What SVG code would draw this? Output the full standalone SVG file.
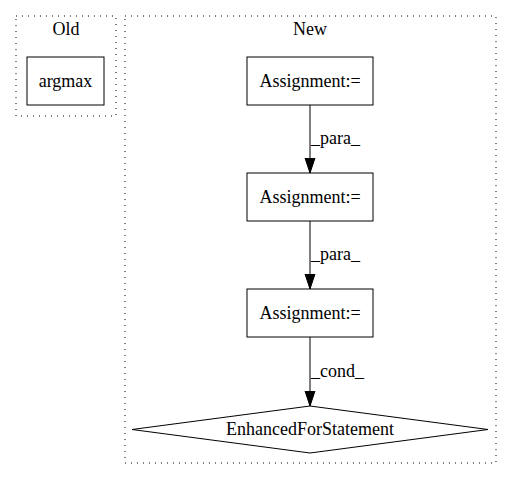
<svg xmlns="http://www.w3.org/2000/svg" width="512" height="480" viewBox="0 0 512 480">
<style>
text{font-family:"Liberation Serif","Times New Roman",serif;font-size:18px;fill:#000}
.cl{fill:none;stroke:#000;stroke-dasharray:1,5}
.n{fill:#fff;stroke:#000}
.e{fill:none;stroke:#000}
</style>
<defs><marker id="ah" markerWidth="16" markerHeight="12" refX="15" refY="6" orient="auto" markerUnits="userSpaceOnUse"><path d="M0,1 L15,6 L0,11 Z" fill="#000" stroke="#000"/></marker></defs>
<rect width="512" height="480" fill="#fff"/>
<g id="cluster_old"><rect class="cl" x="16" y="16" width="100" height="100"/><text x="66" y="35" text-anchor="middle">Old</text></g>
<g id="cluster_new"><rect class="cl" x="125" y="16" width="371" height="447"/><text x="310" y="35" text-anchor="middle">New</text></g>
<g id="argmax"><rect class="n" x="27" y="57" width="77" height="48"/><text x="65.5" y="86.5" text-anchor="middle">argmax</text></g>
<g id="a1"><rect class="n" x="247" y="57" width="126" height="48"/><text x="310" y="87" text-anchor="middle">Assignment:=</text></g>
<g id="a2"><rect class="n" x="247" y="173" width="126" height="48"/><text x="310" y="203" text-anchor="middle">Assignment:=</text></g>
<g id="a3"><rect class="n" x="247" y="289" width="126" height="48"/><text x="310" y="319" text-anchor="middle">Assignment:=</text></g>
<g id="efs"><polygon class="n" points="310,406 488,429.5 310,453 132,429.5"/><text x="310" y="435" text-anchor="middle">EnhancedForStatement</text></g>
<g id="edges">
<line class="e" x1="310" y1="105" x2="310" y2="173" marker-end="url(#ah)"/>
<text x="311" y="144">_para_</text>
<line class="e" x1="310" y1="221" x2="310" y2="289" marker-end="url(#ah)"/>
<text x="311" y="260">_para_</text>
<line class="e" x1="310" y1="337" x2="310" y2="406" marker-end="url(#ah)"/>
<text x="311" y="377">_cond_</text>
</g>
</svg>
